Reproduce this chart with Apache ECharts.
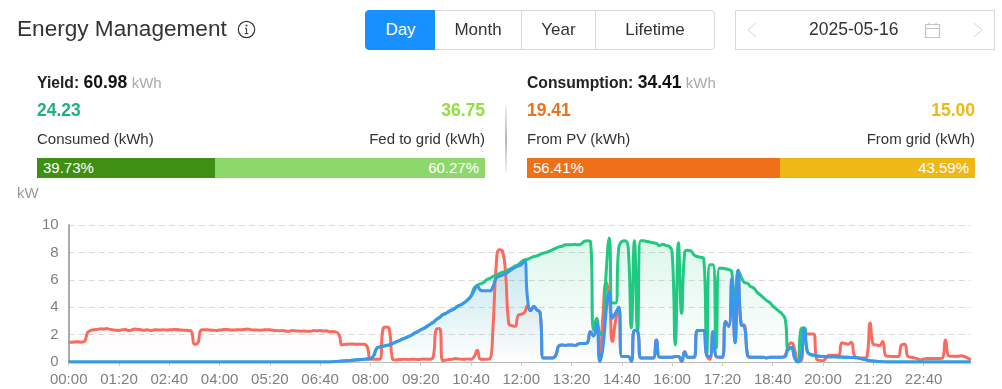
<!DOCTYPE html>
<html><head><meta charset="utf-8">
<script src="https://cdn.jsdelivr.net/npm/echarts@6/dist/echarts.min.js"></script>
<style>
html,body{margin:0;padding:0;background:#fff;width:1002px;height:389px;overflow:hidden;font-family:"Liberation Sans",Arial,sans-serif;color:#333}
.a{position:absolute;white-space:nowrap;line-height:1}
#chart{position:absolute;left:0;top:0;width:1002px;height:389px}
.btn{position:absolute;top:10px;height:40px;box-sizing:border-box;border:1px solid #d9d9d9;line-height:38px;text-align:center;font-size:17px;color:#333;background:#fff}
.bar{position:absolute;top:158px;height:20px;line-height:20px;font-size:15px;color:#fff;box-sizing:border-box;padding:0 6px}
</style></head><body>
<div id="chart"></div>
<div class="a" style="left:17px;top:18px;font-size:22.6px;color:#333">Energy Management</div>
<svg class="a" style="left:237px;top:20px" width="19" height="19" viewBox="0 0 19 19"><circle cx="9.5" cy="9.5" r="8.2" fill="none" stroke="#333" stroke-width="1.2"/><circle cx="9.5" cy="5.6" r="1" fill="#333"/><path d="M8 8.3h1.6v5.2M7.6 13.6h3.8" fill="none" stroke="#333" stroke-width="1"/></svg>

<div class="btn" style="left:365px;width:71px;background:#1890ff;border-color:#1890ff;color:#fff;border-radius:4px 0 0 4px">Day</div>
<div class="btn" style="left:435px;width:87px;border-left:0">Month</div>
<div class="btn" style="left:522px;width:74px;border-left:0">Year</div>
<div class="btn" style="left:595px;width:120px;border-radius:0 4px 4px 0">Lifetime</div>

<div class="a" style="left:735px;top:10px;width:260px;height:40px;box-sizing:border-box;border:1px solid #d9d9d9"></div>
<div class="a" style="left:809px;top:21px;font-size:17.5px;color:#333">2025-05-16</div>
<svg class="a" style="left:745px;top:20px" width="14" height="20"><path d="M11 3L3 10l8 7" fill="none" stroke="#d0d0d0" stroke-width="1"/></svg>
<svg class="a" style="left:971px;top:20px" width="14" height="20"><path d="M3 3l8 7-8 7" fill="none" stroke="#d0d0d0" stroke-width="1"/></svg>
<svg class="a" style="left:924px;top:21px" width="18" height="18"><path d="M1.5 3.5h14v13h-14zM1.5 7.5h14M5 1.5v3M12 1.5v3" fill="none" stroke="#c4c4c4" stroke-width="1.2"/></svg>

<div class="a" style="left:37px;top:74px;font-size:15.7px;font-weight:bold;color:#222">Yield: <span style="font-size:17.5px;color:#111">60.98</span> <span style="font-weight:normal;color:#aaa;font-size:15px">kWh</span></div>
<div class="a" style="left:37px;top:102px;font-size:17.5px;font-weight:bold;color:#1db37a">24.23</div>
<div class="a" style="right:517px;top:102px;font-size:17.5px;font-weight:bold;color:#8fe03a">36.75</div>
<div class="a" style="left:37px;top:131px;font-size:15px;color:#333">Consumed (kWh)</div>
<div class="a" style="right:517px;top:131px;font-size:15px;color:#333">Fed to grid (kWh)</div>
<div class="bar" style="left:37px;width:178px;background:#3f8f14">39.73%</div>
<div class="bar" style="left:215px;width:270px;background:#8dd86a;text-align:right">60.27%</div>

<div class="a" style="left:505px;top:105px;width:2px;height:68px;background:linear-gradient(to bottom,#f4f4f4,#b5b5b5 50%,#f4f4f4)"></div>

<div class="a" style="left:527px;top:74px;font-size:15.7px;font-weight:bold;color:#222">Consumption: <span style="font-size:17.5px;color:#111">34.41</span> <span style="font-weight:normal;color:#aaa;font-size:15px">kWh</span></div>
<div class="a" style="left:527px;top:102px;font-size:17.5px;font-weight:bold;color:#ee7019">19.41</div>
<div class="a" style="right:27px;top:102px;font-size:17.5px;font-weight:bold;color:#efb816">15.00</div>
<div class="a" style="left:527px;top:131px;font-size:15px;color:#333">From PV (kWh)</div>
<div class="a" style="right:27px;top:131px;font-size:15px;color:#333">From grid (kWh)</div>
<div class="bar" style="left:527px;width:253px;background:#ee7019">56.41%</div>
<div class="bar" style="left:780px;width:195px;background:#efb816;text-align:right">43.59%</div>
<div class="a" style="left:17px;top:185px;font-size:15px;color:#999">kW</div>

<script>
// five-minute samples, one row per hour
const consumption = [
1.45,1.45,1.46,1.48,1.45,1.5,2.15,2.3,2.35,2.38,2.42,2.4,
2.44,2.4,2.35,2.32,2.3,2.35,2.38,2.3,2.33,2.4,2.38,2.36,
2.32,2.35,2.3,2.34,2.36,2.33,2.35,2.34,2.35,2.36,2.38,2.35,
2.33,2.32,2.3,2.25,1.3,1.35,2.3,2.35,2.36,2.33,2.32,2.3,
2.33,2.36,2.38,2.35,2.33,2.34,2.35,2.36,2.38,2.4,2.36,2.33,
2.33,2.32,2.34,2.36,2.35,2.32,2.3,2.28,2.3,2.26,2.24,2.3,
2.28,2.26,2.25,2.26,2.24,2.25,2.3,2.28,2.3,2.26,2.28,2.2,
2.22,2.2,2.0,1.25,1.3,1.3,1.32,1.3,1.3,1.3,1.3,1.1,
.2,.2,.2,.2,2.4,2.55,2.4,.25,.15,.18,.18,.2,
.18,.2,.2,.18,.2,.22,.2,.2,.4,2.4,2.45,.1,
.15,.18,.2,.25,.22,.2,.2,.22,.2,.4,.85,.2,
.2,.2,.22,2.5,7,8.2,8.1,6.5,2.8,2.65,2.6,3.4,
3.5,3.6,4.1,3.75,4.05,3.8,3.6,.3,.3,.3,.3,.5,
1.2,1.25,1.2,1.25,1.25,1.2,1.3,1.35,1.35,1.4,2.2,1.9,
2.85,.05,3.5,5.8,4.8,1.5,3,4,.4,.4,.4,.05,
2.3,2.25,.3,.3,.3,.3,.3,1.6,.35,.35,.35,.35,
.35,.4,.4,.05,.75,.35,.35,.35,2.3,2.3,2.3,.5,
.2,2.2,.4,.35,.35,2.95,2.6,6.1,1.4,6.7,2.75,2.7,
.5,.35,.35,.35,.35,.35,.3,.35,.35,.35,.35,.35,
.5,1.2,1.4,.9,.1,.1,2.4,2.05,2.05,2.05,.2,.12,
.1,.3,.5,.5,.5,.5,1.4,1.35,1.3,1.45,.45,.32,
.3,.3,.4,2.85,1.3,1.25,1.2,1.5,.45,.42,.4,.4,
.4,1.25,1.3,.4,.35,.3,.25,.15,.22,.25,.25,.25,
.25,.25,.28,1.6,.45,.42,.42,.42,.45,.4,.3,.15];

const pvPower = [
0,0,0,0,0,0,0,0,0,0,0,0, 0,0,0,0,0,0,0,0,0,0,0,0,
0,0,0,0,0,0,0,0,0,0,0,0, 0,0,0,0,0,0,0,0,0,0,0,0,
0,0,0,0,0,0,0,0,0,0,0,0, 0,0,0,0,0,0,0,0,0,0,0,0,
0,0,0,0,0,0,0,0,0,0,0,0,
.02,.03,.05,.07,.09,.1,.12,.14,.16,.18,.2,.22,
.25,.45,1,1.1,1.15,1.2,1.25,1.35,1.45,1.55,1.65,1.75,
1.85,1.95,2.1,2.2,2.35,2.45,2.6,2.75,2.9,3.1,3.25,3.45,
3.55,3.7,3.8,3.95,4.1,4.2,4.35,4.55,4.8,5.4,5.6,5.7,
5.8,6,6.1,6.25,6.35,6.45,6.55,6.6,6.75,6.85,7,7.1,
7.3,7.45,7.5,7.6,7.7,7.75,7.85,7.95,8,8.1,8.2,8.3,
8.4,8.45,8.55,8.55,8.55,8.6,8.55,8.6,8.8,8.85,8.8,2.3,
3.2,2.1,2,6.5,9.05,4.3,4.3,8.3,8.8,8.85,8.4,2.5,
8.85,2.2,8.85,8.85,8.8,8.75,8.7,8.65,8.5,8.6,8.5,8.45,
8,1.25,8.7,3.55,8,8.15,8.1,7.8,7.7,7.65,7.6,.5,
7.1,7.1,1,6.85,6.85,6.8,6.75,6.6,3,6.7,6.2,5.8,
5.75,5.5,5.4,5.1,4.9,4.7,4.5,4.35,4.1,3.9,3.7,3.5,
3.1,.9,1.05,.3,0,2.4,2.5,.75,.55,.5,.45,.42,
.4,.4,.38,.38,.38,.36,.36,.35,.34,.33,.32,.3,
.25,.2,.15,.1,.07,.05,.03,.02,0,0,0,0,
0,0,0,0,0,0,0,0,0,0,0,0, 0,0,0,0,0,0,0,0,0,0,0,0];

const selfUsed = [
0,0,0,0,0,0,0,0,0,0,0,0, 0,0,0,0,0,0,0,0,0,0,0,0,
0,0,0,0,0,0,0,0,0,0,0,0, 0,0,0,0,0,0,0,0,0,0,0,0,
0,0,0,0,0,0,0,0,0,0,0,0, 0,0,0,0,0,0,0,0,0,0,0,0,
0,0,0,0,0,0,0,0,0,0,0,0,
.02,.03,.05,.07,.09,.1,.12,.14,.16,.18,.2,.22,
.25,.45,1,1.1,1.15,1.2,1.25,1.35,1.45,1.55,1.65,1.75,
1.85,1.95,2.1,2.2,2.35,2.45,2.6,2.75,2.9,3.1,3.25,3.45,
3.55,3.7,3.8,3.95,4.1,4.2,4.35,4.55,4.8,5.2,5.55,5.25,
5.2,5.2,5.2,5.5,6.1,6.25,6.35,6.45,6.6,6.75,6.9,7,
7.1,7.4,4.6,3.75,4.05,3.8,3.6,.3,.3,.3,.3,.5,
1.2,1.25,1.2,1.25,1.25,1.2,1.3,1.35,1.35,1.4,2.2,1.9,
2.85,.05,1.1,3.7,5.1,3.2,3.6,4,.4,.4,.4,.05,
2.3,2.25,.3,.3,.3,.3,.3,1.6,.35,.35,.35,.35,
.35,.4,.4,.05,.75,.35,.35,.35,2.3,2.3,2.3,.5,
.4,2.2,.4,.35,.35,2.95,2.6,6.1,1.4,6.7,2.7,2.6,
.5,.35,.35,.35,.35,.35,.3,.35,.35,.35,.35,.35,
.4,1,1.05,.3,0,.3,2.4,.8,.55,.5,.45,.42,
.4,.4,.38,.38,.38,.36,.36,.35,.34,.33,.32,.3,
.25,.2,.15,.1,.07,.05,.03,.02,0,0,0,0,
0,0,0,0,0,0,0,0,0,0,0,0, 0,0,0,0,0,0,0,0,0,0,0,0];

const timeLabels = [];
for (let m = 0; m < 1440; m += 5) {
  timeLabels.push(String(Math.floor(m / 60)).padStart(2, '0') + ':' + String(m % 60).padStart(2, '0'));
}
if (consumption.length !== 288 || pvPower.length !== 288 || selfUsed.length !== 288) {
  throw new Error('lengths ' + consumption.length + ' ' + pvPower.length + ' ' + selfUsed.length);
}
const fade = (r, g, b, a) => ({type:'linear',x:0,y:0,x2:0,y2:1,colorStops:[{offset:0,color:`rgba(${r},${g},${b},${a})`},{offset:1,color:`rgba(${r},${g},${b},0)`}]});
const line = (data, color, area) => ({type:'line',data,smooth:true,showSymbol:false,symbol:'none',animation:false,
  lineStyle:{color,width:3},itemStyle:{color},areaStyle:{color:area}});

echarts.init(document.getElementById('chart')).setOption({
  animation:false,
  grid:{left:68.7,right:31.3,top:225,bottom:27,containLabel:false},
  xAxis:{type:'category',boundaryGap:false,data:timeLabels,
    axisLine:{lineStyle:{color:'#bbb',width:1}},
    axisTick:{show:true,interval:(i)=>i%16===0,length:4,lineStyle:{color:'#ccc'}},
    axisLabel:{interval:(i)=>i%16===0,color:'#7f7f7f',fontSize:15,margin:10,fontFamily:'Liberation Sans',hideOverlap:false},
    splitLine:{show:false}},
  yAxis:{type:'value',min:0,max:10,interval:2,
    axisLine:{show:true,lineStyle:{color:'#aaa',width:2}},axisTick:{show:false},
    axisLabel:{color:'#7f7f7f',fontSize:15,margin:10,fontFamily:'Liberation Sans'},
    splitLine:{lineStyle:{color:'#d9d9d9',type:[6,4],width:1}}},
  series:[
    line(consumption,'#fb6a5e',fade(251,106,94,.15)),
    line(pvPower,'#1fc97f',fade(31,201,127,.22)),
    line(selfUsed,'#3a96f0',fade(58,150,240,.25))
  ]
});
</script>
</body></html>
